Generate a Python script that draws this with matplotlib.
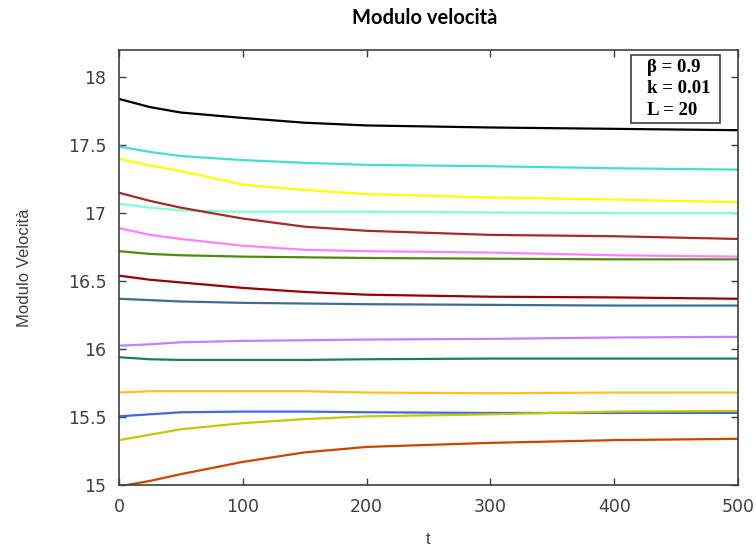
import matplotlib
matplotlib.use("Agg")
import matplotlib.pyplot as plt
from matplotlib.patches import Rectangle

t = [0, 25, 50, 100, 150, 200, 300, 400, 500]

black = [17.84, 17.78, 17.74, 17.70, 17.665, 17.645, 17.63, 17.62, 17.61]
turquoise = [17.49, 17.45, 17.42, 17.39, 17.37, 17.355, 17.345, 17.33, 17.32]
yellow = [17.40, 17.35, 17.31, 17.21, 17.17, 17.14, 17.115, 17.10, 17.08]
aquamarine = [17.07, 17.04, 17.02, 17.01, 17.01, 17.01, 17.005, 17.00, 17.00]
brown = [17.15, 17.09, 17.04, 16.96, 16.90, 16.87, 16.84, 16.83, 16.81]
pink = [16.89, 16.84, 16.81, 16.76, 16.73, 16.72, 16.71, 16.69, 16.68]
green = [16.72, 16.70, 16.69, 16.68, 16.675, 16.67, 16.665, 16.66, 16.66]
darkred = [16.54, 16.51, 16.49, 16.45, 16.42, 16.40, 16.385, 16.38, 16.37]
steelblue = [16.37, 16.36, 16.35, 16.34, 16.335, 16.33, 16.325, 16.32, 16.32]
purple = [16.025, 16.035, 16.05, 16.06, 16.065, 16.07, 16.075, 16.085, 16.09]
darkgreen = [15.94, 15.925, 15.92, 15.92, 15.92, 15.925, 15.93, 15.93, 15.93]
gold = [15.68, 15.69, 15.69, 15.69, 15.69, 15.68, 15.675, 15.68, 15.68]
blue = [15.505, 15.52, 15.535, 15.54, 15.54, 15.535, 15.53, 15.53, 15.53]
olive = [15.33, 15.37, 15.41, 15.455, 15.485, 15.505, 15.52, 15.54, 15.545]
orangered = [14.99, 15.03, 15.08, 15.17, 15.24, 15.28, 15.31, 15.33, 15.34]

series = [
    (black, "#000000"),
    (turquoise, "#40E0D0"),
    (yellow, "#FFFF00"),
    (aquamarine, "#7FFFD4"),
    (brown, "#A52A2A"),
    (pink, "#FF80FF"),
    (green, "#4E8A0E"),
    (darkred, "#990000"),
    (steelblue, "#3B6E8F"),
    (purple, "#C080FF"),
    (darkgreen, "#1A8050"),
    (gold, "#FFC020"),
    (blue, "#4169E1"),
    (olive, "#C8C800"),
    (orangered, "#CC4400"),
]

x_ticks = [0, 100, 200, 300, 400, 500]
y_ticks = [15, 15.5, 16, 16.5, 17, 17.5, 18]
y_ticklabels = ["15", "15.5", "16", "16.5", "17", "17.5", "18"]
info_lines = ["β = 0.9", "k = 0.01", "L = 20"]

fig = plt.figure(figsize=(7.56, 5.52), dpi=100)
ax = fig.add_axes([119 / 756, 1 - 485 / 552, (738 - 119) / 756, (485 - 50) / 552])

for vals, col in series:
    ax.plot(t, vals, color=col, linewidth=1.6, solid_capstyle="butt")

ax.set_xlim(0, 500)
ax.set_ylim(15, 18.2)
ax.set_xticks(x_ticks)
ax.set_yticks(y_ticks)
ax.set_yticklabels(y_ticklabels)
ax.tick_params(direction="in", top=True, right=True, length=5, width=1,
               color="#404040", labelsize=12.5, labelcolor="#404040", pad=9)
for s in ax.spines.values():
    s.set_color("#404040")
    s.set_linewidth(1.2)

ax.set_xlabel("t", fontsize=12, color="#404040", family="Liberation Sans", labelpad=12)
ax.set_ylabel("Modulo Velocità", fontsize=12, color="#404040", family="Liberation Sans", labelpad=26)

fig.text(425 / 756, 1 - 18 / 552, "Modulo velocità", ha="center", va="center",
         fontsize=14.5, fontweight="bold", family="Lato")

# info box
bx0, bx1 = (631 - 119) / 619, (720 - 119) / 619
by0, by1 = (485 - 123) / 435, (485 - 55) / 435
ax.add_patch(Rectangle((bx0, by0), bx1 - bx0, by1 - by0, transform=ax.transAxes,
                       facecolor="white", edgecolor="#404040", linewidth=1.2, zorder=5))
for yy, txt in zip([67, 88, 110], info_lines):
    ax.text((647 - 119) / 619, (485 - yy) / 435, txt, transform=ax.transAxes,
            ha="left", va="center", fontsize=13.5, fontweight="bold",
            family="Liberation Serif", zorder=6)

fig.savefig("out.png", dpi=100)
